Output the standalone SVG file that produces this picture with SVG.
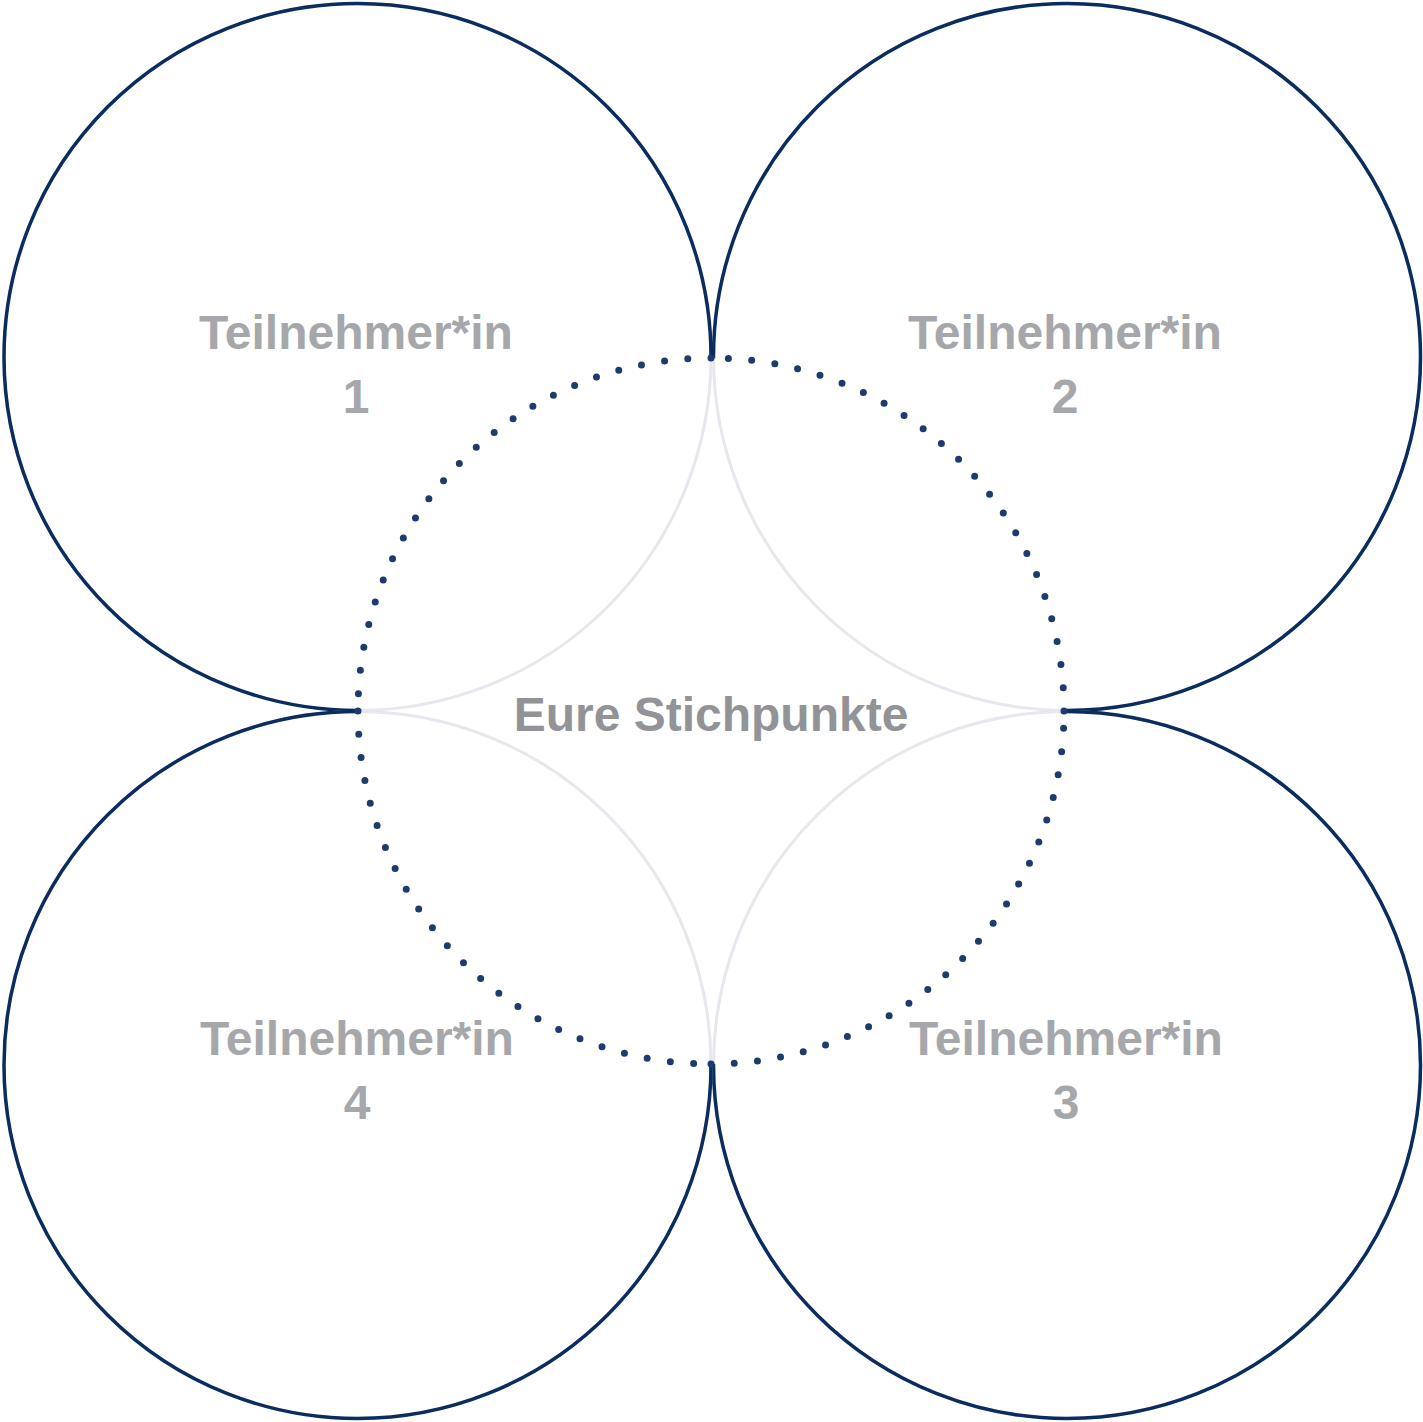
<svg xmlns="http://www.w3.org/2000/svg" width="1423" height="1422" viewBox="0 0 1423 1422">
  <style>
    .light { fill: none; stroke: #e6e8ee; stroke-width: 3; }
    .dark { fill: none; stroke: #0b2c5f; stroke-width: 3.5; }
    .dots { fill: none; stroke: #1f3b6d; stroke-width: 7; stroke-linecap: round; stroke-dasharray: 0 1; }
    .lbl { font-family: "Liberation Sans", Arial, sans-serif; font-weight: bold; font-size: 48px; fill: #a6a7ab; text-anchor: middle; }
    .ctr { font-family: "Liberation Sans", Arial, sans-serif; font-weight: bold; font-size: 48px; fill: #929397; text-anchor: middle; }
  </style>
  <defs>
    <clipPath id="outside">
      <path clip-rule="evenodd" d="M0 0H1423V1422H0Z M711 358 A353 353 0 1 0 711 1064 A353 353 0 1 0 711 358Z"/>
    </clipPath>
  </defs>
  <rect width="1423" height="1422" fill="#ffffff"/>

  <g id="node-teilnehmer-1">
    <circle class="light" cx="357.5" cy="357" r="353.5"/>
    <circle class="dark" cx="357.5" cy="357" r="353.5" clip-path="url(#outside)"/>
    <text class="lbl" x="356" y="349">Teilnehmer*in</text>
    <text class="lbl" x="356" y="413">1</text>
  </g>

  <g id="node-teilnehmer-2">
    <circle class="light" cx="1067" cy="357" r="353.5"/>
    <circle class="dark" cx="1067" cy="357" r="353.5" clip-path="url(#outside)"/>
    <text class="lbl" x="1065" y="349">Teilnehmer*in</text>
    <text class="lbl" x="1065" y="413">2</text>
  </g>

  <g id="node-teilnehmer-3">
    <circle class="light" cx="1067" cy="1065" r="353.5"/>
    <circle class="dark" cx="1067" cy="1065" r="353.5" clip-path="url(#outside)"/>
    <text class="lbl" x="1066" y="1055">Teilnehmer*in</text>
    <text class="lbl" x="1066" y="1119">3</text>
  </g>

  <g id="node-teilnehmer-4">
    <circle class="light" cx="357.5" cy="1065" r="353.5"/>
    <circle class="dark" cx="357.5" cy="1065" r="353.5" clip-path="url(#outside)"/>
    <text class="lbl" x="357" y="1055">Teilnehmer*in</text>
    <text class="lbl" x="357" y="1119">4</text>
  </g>

  <g id="connectors">
    <path class="dots" pathLength="23.75" d="M1064 711 A353 353 0 0 0 711 358"/>
    <path class="dots" pathLength="23.75" d="M711 1064 A353 353 0 0 0 1064 711"/>
    <path class="dots" pathLength="23.75" d="M358 711 A353 353 0 0 0 711 1064"/>
    <path class="dots" pathLength="23.75" d="M711 358 A353 353 0 0 0 358 711"/>
  </g>

  <g id="node-stichpunkte">
    <text class="ctr" x="711" y="731">Eure Stichpunkte</text>
  </g>
</svg>
